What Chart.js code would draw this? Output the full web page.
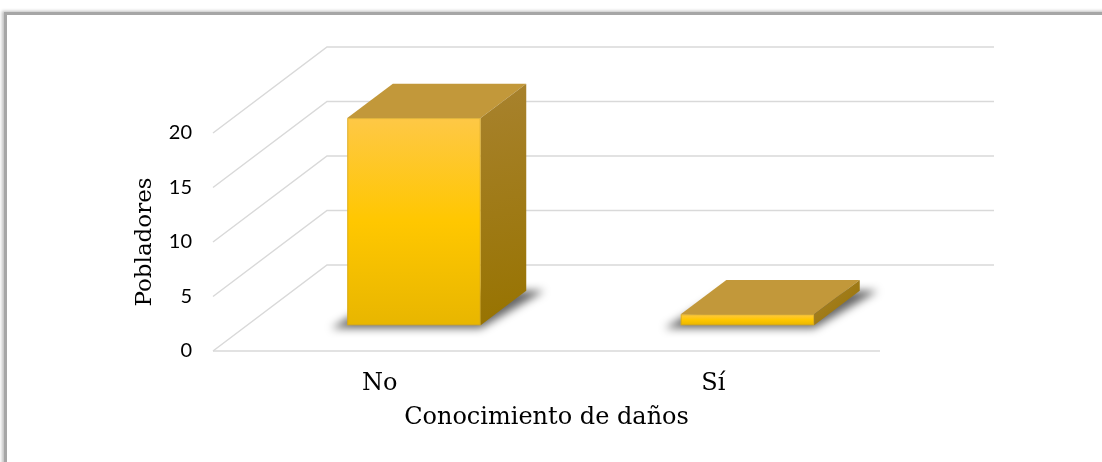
<!DOCTYPE html>
<html lang="es">
<head>
<meta charset="utf-8">
<title>Conocimiento de daños</title>
<script src="https://cdn.jsdelivr.net/npm/chart.js@4.4.1/dist/chart.umd.min.js"></script>
<style>
  html, body { margin: 0; padding: 0; background: #fff; }
  #lienzo { position: relative; width: 1102px; height: 462px; overflow: hidden; }
  #marco {
    position: absolute; left: 4px; top: 12px; width: 1300px; height: 700px;
    border-top: 3px solid #a6a6a6; border-left: 3px solid #a6a6a6;
    box-shadow: -2px -1px 3px rgba(0, 0, 0, 0.25);
  }
  #grafico { position: absolute; left: 0; top: 0; }
</style>
</head>
<body>
<div id="lienzo">
  <div id="marco"></div>
  <canvas id="grafico" width="1102" height="462"></canvas>
</div>
<script>
const categorias = ["No", "Sí"]
const pobladores = [19, 1]
const marcasY = [0, 5, 10, 15, 20]

// profundidad de la caja 3D (hacia atrás y hacia arriba)
const FONDO_X = 114
const FONDO_Y = -86
// dónde empieza la barra dentro de la profundidad y cuánto ocupa
const BARRA_INICIO = 0.3
const BARRA_PROF = 0.4

const serif = "'DejaVu Serif', serif"

// dibuja paredes, piso y las barras como prismas
const cubo3d = {
    id: "cubo3d",
    beforeDatasetsDraw(chart) {
        const { ctx, chartArea, scales: { y } } = chart
        ctx.save()
        ctx.strokeStyle = "#d9d9d9"
        ctx.lineWidth = 1.5
        marcasY.forEach(v => {
            const py = y.getPixelForValue(v)
            ctx.beginPath()
            ctx.moveTo(chartArea.left, py)
            ctx.lineTo(chartArea.left + FONDO_X, py + FONDO_Y)
            ctx.lineTo(chartArea.right + FONDO_X, py + FONDO_Y)
            ctx.stroke()
        })
        // borde delantero del piso
        const p0 = y.getPixelForValue(0)
        ctx.beginPath()
        ctx.moveTo(chartArea.left, p0)
        ctx.lineTo(chartArea.right, p0)
        ctx.stroke()
        ctx.restore()
    },
    afterDatasetsDraw(chart) {
        const { ctx } = chart
        const meta = chart.getDatasetMeta(0)
        const ox = FONDO_X * BARRA_INICIO, oy = FONDO_Y * BARRA_INICIO
        const dx = FONDO_X * BARRA_PROF, dy = FONDO_Y * BARRA_PROF

        meta.data.forEach(barra => {
            const l = barra.x - barra.width / 2 + ox
            const r = barra.x + barra.width / 2 + ox
            const t = barra.y + oy
            const b = barra.base + oy

            // sombra sobre el piso
            ctx.save()
            ctx.filter = "blur(4px)"
            ctx.fillStyle = "rgba(0, 0, 0, 0.6)"
            ctx.beginPath()
            ctx.moveTo(l - 16, b + 3)
            ctx.lineTo(r, b + 3)
            ctx.lineTo(r + dx + 18, b + dy)
            ctx.lineTo(l + dx, b + dy)
            ctx.closePath()
            ctx.fill()
            ctx.restore()

            ctx.save()
            // cara frontal
            const gFrente = ctx.createLinearGradient(0, t, 0, b)
            gFrente.addColorStop(0, "#fec846")
            gFrente.addColorStop(0.5, "#ffc700")
            gFrente.addColorStop(1, "#e8b600")
            ctx.fillStyle = gFrente
            ctx.fillRect(l, t, r - l, b - t)

            // cara superior
            ctx.fillStyle = "#c2983a"
            ctx.beginPath()
            ctx.moveTo(l, t)
            ctx.lineTo(l + dx, t + dy)
            ctx.lineTo(r + dx, t + dy)
            ctx.lineTo(r, t)
            ctx.closePath()
            ctx.fill()

            // cara lateral
            const gLado = ctx.createLinearGradient(r, t + dy, r + dx, b)
            gLado.addColorStop(0, "#a8822e")
            gLado.addColorStop(1, "#977300")
            ctx.fillStyle = gLado
            ctx.beginPath()
            ctx.moveTo(r, t)
            ctx.lineTo(r + dx, t + dy)
            ctx.lineTo(r + dx, b + dy)
            ctx.lineTo(r, b)
            ctx.closePath()
            ctx.fill()

            // aristas suaves
            ctx.strokeStyle = "rgba(200, 160, 40, 0.6)"
            ctx.lineWidth = 1
            ctx.strokeRect(l + 0.5, t + 0.5, r - l - 1, b - t - 1)
            ctx.restore()
        })
    }
}

function dibujar() {
    const ctx = document.getElementById("grafico").getContext("2d")
    new Chart(ctx, {
        type: "bar",
        data: {
            labels: categorias,
            datasets: [{
                label: "Pobladores",
                data: pobladores,
                backgroundColor: "rgba(0,0,0,0)",
                borderWidth: 0,
                barPercentage: 0.4,
                categoryPercentage: 1.0
            }]
        },
        options: {
            responsive: false,
            animation: false,
            events: [],
            layout: {
                padding: { left: 0, top: 133, right: 222, bottom: 0 }
            },
            plugins: {
                legend: { display: false },
                tooltip: { enabled: false }
            },
            scales: {
                x: {
                    offset: true,
                    grid: { display: false },
                    border: { display: false },
                    ticks: {
                        color: "#000",
                        padding: 10,
                        font: { family: serif, size: 24 }
                    },
                    title: {
                        display: true,
                        text: "Conocimiento de daños",
                        color: "#000",
                        font: { family: serif, size: 24 },
                        padding: { top: 0, bottom: 30 }
                    },
                    afterFit(escala) { escala.height = 111 }
                },
                y: {
                    min: 0,
                    max: 20,
                    grid: { display: false },
                    border: { display: false },
                    ticks: {
                        stepSize: 5,
                        color: "#000",
                        padding: 13,
                        font: { family: "Lato", size: 20 }
                    },
                    title: {
                        display: true,
                        text: "Pobladores",
                        color: "#000",
                        font: { family: serif, size: 23 },
                        padding: { top: 131, bottom: 0 }
                    },
                    afterFit(escala) { escala.width = 213 }
                }
            }
        },
        plugins: [cubo3d]
    })
}

document.fonts.load("20px Lato").then(dibujar, dibujar)
</script>
</body>
</html>
